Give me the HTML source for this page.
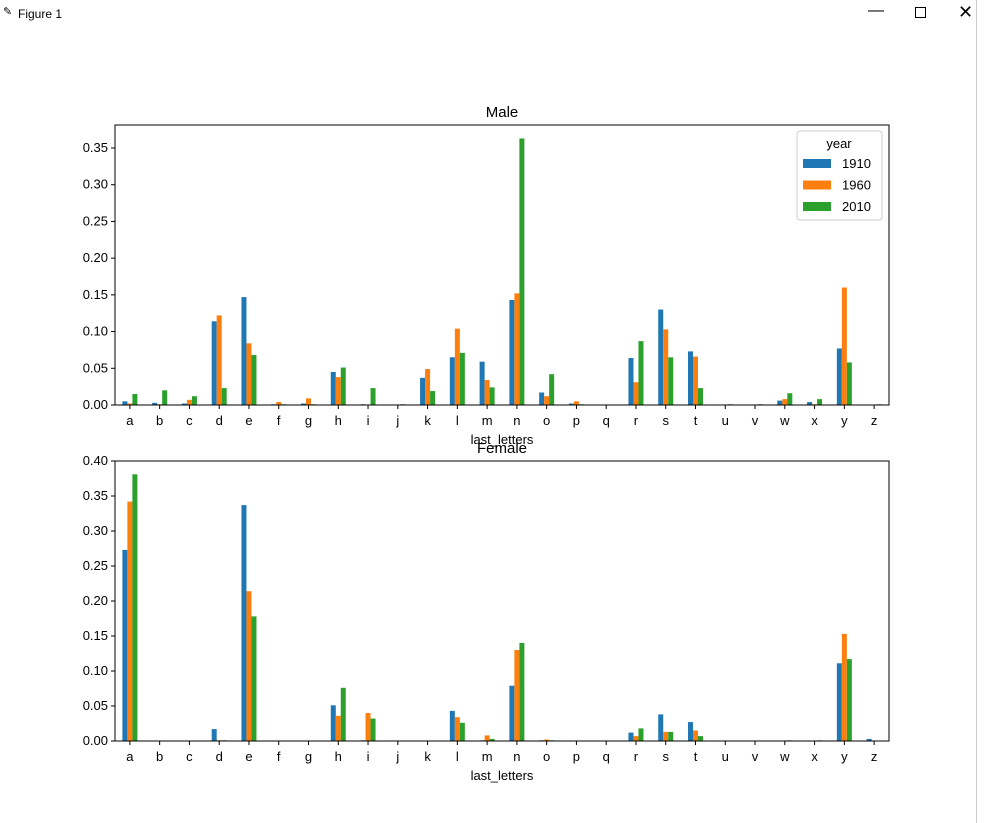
<!DOCTYPE html>
<html><head><meta charset="utf-8"><style>
body{margin:0;width:994px;height:823px;background:#fff;overflow:hidden;font-family:"Liberation Sans","DejaVu Sans",sans-serif;}
</style></head><body>
<div style="position:absolute;left:18px;top:7px;font-size:12px;">Figure 1</div>
<div style="position:absolute;left:3px;top:5px;font-size:11px;">✎</div>
<div style="position:absolute;left:868px;top:2px;font-size:16px;">—</div>
<div style="position:absolute;left:915px;top:7px;width:9px;height:9px;border:1px solid #000;"></div>
<div style="position:absolute;left:958px;top:2px;font-size:18px;">✕</div>
<div style="position:absolute;left:976px;top:0;width:1px;height:823px;background:#ccc;"></div>
<svg id="chart" width="994" height="823" style="position:absolute;left:0;top:0" font-family="Liberation Sans, DejaVu Sans, sans-serif"></svg>
<script>
const categories=["a","b","c","d","e","f","g","h","i","j","k","l","m","n","o","p","q","r","s","t","u","v","w","x","y","z"];
const seriesNames=["1910","1960","2010"];
const male1910=[.005,.003,.002,.114,.147,.001,.002,.045,.001,0,.037,.065,.059,.143,.017,.002,0,.064,.130,.073,0,0,.006,.004,.077,0];
const male1960=[.002,.001,.007,.122,.084,.004,.009,.038,0,0,.049,.104,.034,.152,.012,.005,0,.031,.103,.066,0,0,.008,.001,.160,0];
const male2010=[.015,.020,.012,.023,.068,.001,.001,.051,.023,.001,.019,.071,.024,.363,.042,.001,0,.087,.065,.023,.001,.001,.016,.008,.058,.001];
const female1910=[.273,0,0,.017,.337,0,0,.051,.001,0,0,.043,.001,.079,.001,0,0,.012,.038,.027,0,0,0,0,.111,.003];
const female1960=[.342,0,0,.001,.214,0,0,.036,.040,0,0,.034,.008,.130,.002,0,0,.007,.013,.015,0,0,0,0,.153,0];
const female2010=[.381,0,0,.001,.178,0,0,.076,.032,0,0,.026,.003,.140,.001,0,0,.018,.013,.007,0,0,.001,.001,.117,0];
const maleTicks=[0,.05,.10,.15,.20,.25,.30,.35];
const femaleTicks=[0,.05,.10,.15,.20,.25,.30,.35,.40];
const colors=["#1f77b4","#ff7f0e","#2ca02c"];
const svg=document.getElementById('chart');
const NS="http://www.w3.org/2000/svg";
function mk(t,a,p){const e=document.createElementNS(NS,t);for(const k in a)e.setAttribute(k,a[k]);(p||svg).appendChild(e);return e;}
function panel(name,top,bottom,ymax,ticks,series,title){
 const L=115,R=889;
 const g=mk('g',{});
 
 
 const step=(R-L)/categories.length;
 const x=i=>L+step*(i+0.5);
 const y=v=>bottom-(v/ymax)*(bottom-top);
 series.forEach((s,si)=>{s.forEach((v,i)=>{
   const r=mk('rect',{x:x(i)+(si-1.5)*5,y:y(v),width:5,height:bottom-y(v),fill:colors[si]},g);
   
   
 });});
 mk('rect',{x:L,y:top,width:R-L,height:bottom-top,fill:'none',stroke:'#000','stroke-width':1},g);
 ticks.forEach(t=>{
   mk('line',{x1:L-4,x2:L,y1:y(t),y2:y(t),stroke:'#000'},g);
   const tx=mk('text',{x:L-7,y:y(t)+4,'font-size':13,'text-anchor':'end'},g);
   tx.textContent=t.toFixed(2);
   
   
 });
 categories.forEach((c,i)=>{
   mk('line',{x1:x(i),x2:x(i),y1:bottom,y2:bottom+4,stroke:'#000'},g);
   const tx=mk('text',{x:x(i),y:bottom+20,'font-size':13,'text-anchor':'middle'},g);
   tx.textContent=c;
   
   
 });
 const xl=mk('text',{x:(L+R)/2,y:bottom+39,'font-size':13,'text-anchor':'middle'},g);
 xl.textContent='last_letters';
 
 
 const tt=mk('text',{x:(L+R)/2,y:top-8,'font-size':15,'text-anchor':'middle'},g);
 tt.textContent=title;
 
 
}
panel('male',125,405,0.35/((405-148)/280),maleTicks,[male1910,male1960,male2010],'Male');
panel('female',461,741,0.40,femaleTicks,[female1910,female1960,female2010],'Female');
const lg=mk('g',{});


mk('rect',{x:797,y:131,width:85,height:89,fill:'#fff',stroke:'#ccc',rx:3},lg);
const lt=mk('text',{x:839,y:148,'font-size':13,'text-anchor':'middle'},lg);
lt.textContent='year';
seriesNames.forEach((n,i)=>{
 const yy=163+i*21.5;
 const r=mk('rect',{x:803,y:yy-4,width:28,height:9,fill:colors[i]},lg);
 
 
 const t=mk('text',{x:842,y:yy+5,'font-size':13},lg);
 t.textContent=n;
 
 
});
</script>
</body></html>
